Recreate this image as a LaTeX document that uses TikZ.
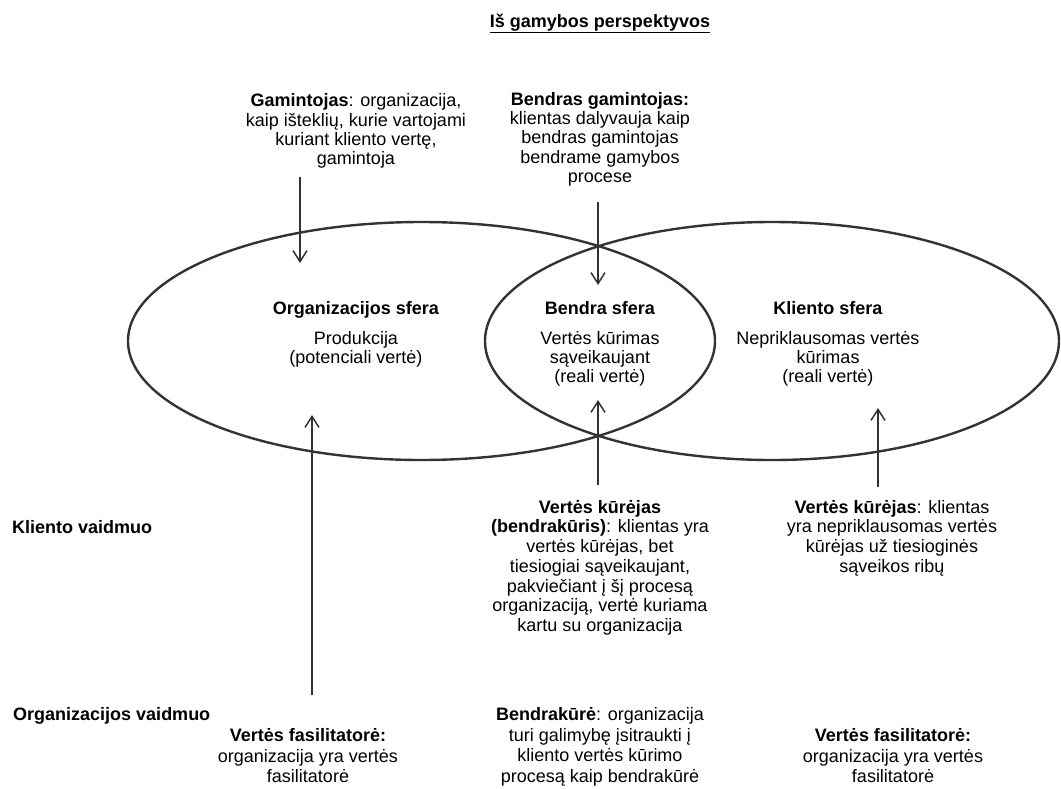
\documentclass[tikz,border=0pt]{standalone}
\usepackage{fontspec}
\setmainfont{Liberation Sans}
\usetikzlibrary{arrows.meta}
\definecolor{ellc}{HTML}{333333}
\definecolor{arrc}{HTML}{333333}
\begin{document}
\begin{tikzpicture}[x=1pt,y=-1pt,
  txt/.style={inner sep=0pt, align=center, font=\fontsize{18}{19.3}\selectfont},
  txtb/.style={inner sep=0pt, align=center, font=\fontsize{18}{19.7}\selectfont},
  txtc/.style={inner sep=0pt, align=center, font=\fontsize{18}{20.8}\selectfont},
  lbl/.style={inner sep=0pt, font=\bfseries\fontsize{18}{19.3}\selectfont},
  ell/.style={draw=ellc, line width=2.4pt},
  arr/.style={draw=arrc, line width=1.5pt, -{Straight Barb[length=11pt,width=14pt,line width=1.5pt]}}]
\useasboundingbox (0,0) rectangle (1061,788);

% title
\node[lbl, anchor=base] (title) at (600,27) {\underline{Iš gamybos perspektyvos}};

% top texts
\node[txt, anchor=north] (gam) at (356,93.5) {\textbf{Gamintojas}: organizacija,\\kaip išteklių, kurie vartojami\\kuriant kliento vertę,\\gamintoja};
\node[txt, anchor=north] (bg) at (600,92) {\textbf{Bendras gamintojas:}\\klientas dalyvauja kaip\\bendras gamintojas\\bendrame gamybos\\procese};

% ellipses
\draw[ell] (421.5,341) ellipse [x radius=293.5pt, y radius=119pt];
\draw[ell] (772,341) ellipse [x radius=287pt, y radius=119pt];

% sphere texts
\node[txt, anchor=north] (orgs) at (356,301) {\textbf{Organizacijos sfera}\\[10.7pt]Produkcija\\(potenciali vertė)};
\node[txt, anchor=north] (bends) at (600,301) {\textbf{Bendra sfera}\\[10.7pt]Vertės kūrimas\\sąveikaujant\\(reali vertė)};
\node[txt, anchor=north] (klis) at (828,301) {\textbf{Kliento sfera}\\[10.7pt]Nepriklausomas vertės\\kūrimas\\(reali vertė)};

% row labels
\node[lbl, anchor=base west] (kv) at (12,533) {Kliento vaidmuo};
\node[lbl, anchor=base west] (ov) at (13,720) {Organizacijos vaidmuo};

% client role texts
\node[txtb, anchor=north] (vkb) at (600,500) {\textbf{Vertės kūrėjas}\\\textbf{(bendrakūris)}: klientas yra\\vertės kūrėjas, bet\\tiesiogiai sąveikaujant,\\pakviečiant į šį procesą\\organizaciją, vertė kuriama\\kartu su organizacija};
\node[txtb, anchor=north] (vkn) at (892,500) {\textbf{Vertės kūrėjas}: klientas\\yra nepriklausomas vertės\\kūrėjas už tiesioginės\\sąveikos ribų};

% organisation role texts
\node[txtc, anchor=north] (vf1) at (308,728) {\textbf{Vertės fasilitatorė:}\\organizacija yra vertės\\fasilitatorė};
\node[txtc, anchor=north] (bk) at (600,707) {\textbf{Bendrakūrė}: organizacija\\turi galimybę įsitraukti į\\kliento vertės kūrimo\\procesą kaip bendrakūrė};
\node[txtc, anchor=north] (vf2) at (893,728) {\textbf{Vertės fasilitatorė:}\\organizacija yra vertės\\fasilitatorė};

% arrow end points
\coordinate (a1t) at (300,177);
\coordinate (a1h) at (300,263);
\coordinate (a2t) at (598,202);
\coordinate (a2h) at (598,285);
\coordinate (a3t) at (312,695);
\coordinate (a3h) at (312,415);
\coordinate (a4t) at (598,485);
\coordinate (a4h) at (598,400);
\coordinate (a5t) at (878,487);
\coordinate (a5h) at (878,408);

\draw[arr] (a1t) -- (a1h);
\draw[arr] (a2t) -- (a2h);
\draw[arr] (a3t) -- (a3h);
\draw[arr] (a4t) -- (a4h);
\draw[arr] (a5t) -- (a5h);
\end{tikzpicture}
\end{document}
